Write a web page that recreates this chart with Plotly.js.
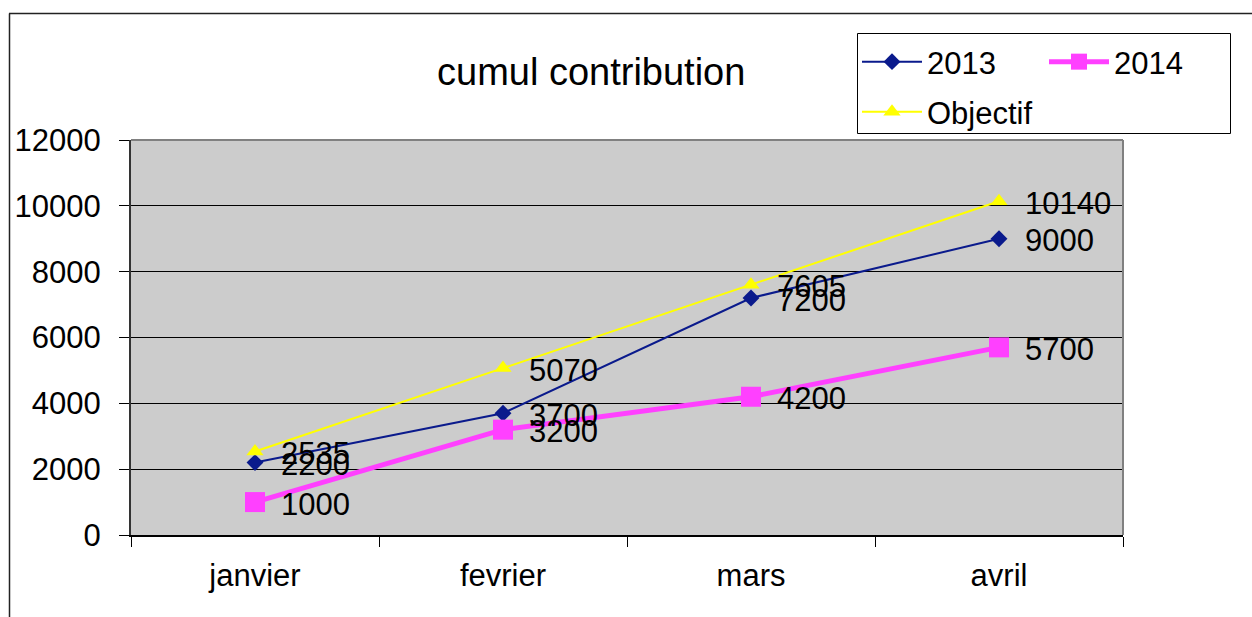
<!DOCTYPE html>
<html>
<head>
<meta charset="utf-8">
<script src="https://cdn.plot.ly/plotly-3.0.1.min.js"></script>
<style>
html,body{margin:0;padding:0;background:#fff;}
#chart{width:1252px;height:617px;}
</style>
</head>
<body>
<div id="chart"></div>
<script>
// ---- data ----
var months = ["janvier", "fevrier", "mars", "avril"];
var serie2013 = [2200, 3700, 7200, 9000];
var serie2014 = [1000, 3200, 4200, 5700];
var objectif = [2535, 5070, 7605, 10140];
var seriesNames = ["2013", "2014", "Objectif"];
var yTicks = [0, 2000, 4000, 6000, 8000, 10000, 12000];
var chartTitle = "cumul contribution";

// ---- layout constants ----
var W = 1252, H = 617, L = 131, R = 129, T = 140, B = 82;
var PW = W - L - R, PH = H - T - B;
function px2x(px) { return (px - L) / PW; }
function py2y(py) { return (H - B - py) / PH; }
var FONT = "Liberation Sans, Arial, sans-serif";

var t2013 = {
  x: months, y: serie2013, name: seriesNames[0], type: "scatter", mode: "lines+markers",
  line: {color: "#0a1a8c", width: 2},
  marker: {symbol: "diamond", size: 13, color: "#0a1a8c"},
  legend: "legend"
};
var t2014 = {
  x: months, y: serie2014, name: seriesNames[1], type: "scatter", mode: "lines+markers",
  line: {color: "#ff40ff", width: 5},
  marker: {symbol: "square", size: 20, color: "#ff40ff"},
  legend: "legend"
};
var tObj = {
  x: months, y: objectif, name: seriesNames[2], type: "scatter", mode: "lines+markers",
  line: {color: "#ffff00", width: 2},
  marker: {symbol: "triangle-up", size: 15, color: "#ffff00"},
  legend: "legend2"
};

var annotations = [];
[serie2013, serie2014, objectif].forEach(function (vals) {
  vals.forEach(function (v, i) {
    annotations.push({
      x: months[i], y: v, xref: "x", yref: "y", text: String(v),
      showarrow: false, xanchor: "left", yanchor: "middle", xshift: 24, yshift: -2,
      font: {family: FONT, size: 31, color: "#000"}
    });
  });
});
annotations.push({
  text: chartTitle, xref: "paper", yref: "paper", x: px2x(591), y: py2y(72),
  xanchor: "center", yanchor: "middle", showarrow: false,
  font: {family: FONT, size: 38, color: "#000"}
});

var shapes = [
  {type: "line", xref: "paper", yref: "paper", x0: 0, x1: 1, y0: 1, y1: 1, line: {color: "#808080", width: 2}},
  {type: "line", xref: "paper", yref: "paper", x0: 1, x1: 1, y0: 0, y1: 1, line: {color: "#808080", width: 2}},
  {type: "line", xref: "paper", yref: "paper", x0: px2x(9.5), x1: px2x(9.5), y0: py2y(13.5), y1: py2y(620), line: {color: "#222", width: 1.5}},
  {type: "line", xref: "paper", yref: "paper", x0: px2x(9), x1: px2x(1255), y0: py2y(13.5), y1: py2y(13.5), line: {color: "#222", width: 1.5}},
  // legend frame
  {type: "rect", xref: "paper", yref: "paper", x0: px2x(857.5), x1: px2x(1230.5), y0: py2y(33.5), y1: py2y(133.5),
   line: {color: "#000", width: 1}, fillcolor: "rgba(0,0,0,0)"}
];

var legendCommon = {
  orientation: "h", xanchor: "left", yanchor: "top",
  bgcolor: "rgba(0,0,0,0)", borderwidth: 0,
  font: {family: FONT, size: 31, color: "#000"},
  itemwidth: 60, entrywidth: 112, entrywidthmode: "pixels", traceorder: "normal"
};
var legend1 = Object.assign({}, legendCommon, {x: px2x(857), y: py2y(35)});
var legend2 = Object.assign({}, legendCommon, {x: px2x(857), y: py2y(85)});

var layout = {
  width: W, height: H,
  margin: {l: L, r: R, t: T, b: B, pad: 0, autoexpand: false},
  paper_bgcolor: "#fff", plot_bgcolor: "#cccccc",
  font: {family: FONT, size: 31, color: "#000"},
  showlegend: true,
  legend: legend1,
  legend2: legend2,
  xaxis: {
    type: "category", range: [-0.5, 3.5], tickson: "boundaries", ticks: "outside", ticklen: 10, tickcolor: "#000", tickwidth: 1,
    showline: true, linecolor: "#000", linewidth: 2, showgrid: false, zeroline: false,
    tickfont: {family: FONT, size: 31}, ticklabelstandoff: 12, fixedrange: true, automargin: false
  },
  yaxis: {
    range: [0, 12000], tickvals: yTicks, ticktext: yTicks.map(String),
    ticks: "outside", ticklen: 10, tickcolor: "#000", tickwidth: 1,
    showline: true, linecolor: "#333", linewidth: 2,
    showgrid: true, gridcolor: "#000", gridwidth: 1, zeroline: false,
    tickfont: {family: FONT, size: 31}, ticklabelstandoff: 12, fixedrange: true, automargin: false
  },
  annotations: annotations,
  shapes: shapes
};

Plotly.newPlot("chart", [t2013, t2014, tObj], layout, {displayModeBar: false, staticPlot: true});
</script>
</body>
</html>
